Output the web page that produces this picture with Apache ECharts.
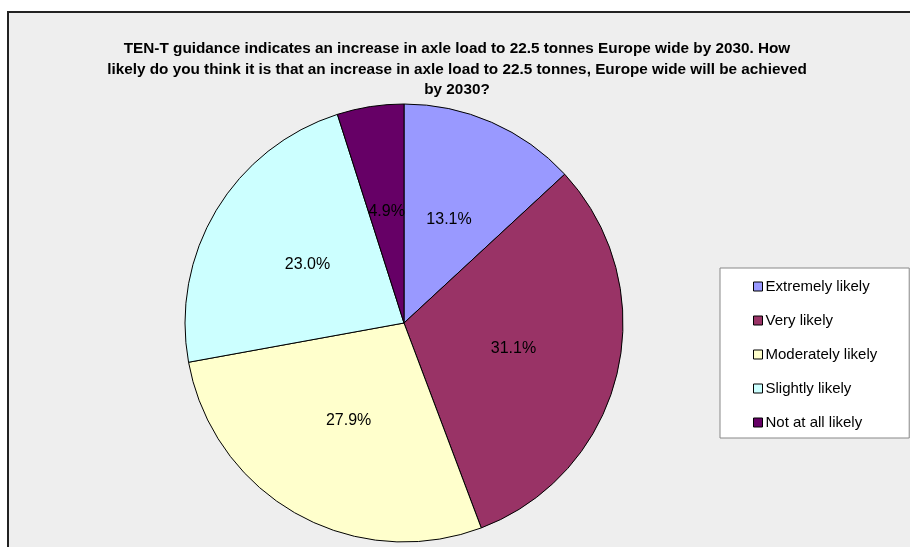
<!DOCTYPE html>
<html>
<head>
<meta charset="utf-8">
<script src="https://cdn.jsdelivr.net/npm/echarts@6/dist/echarts.min.js"></script>
<style>
  html, body { margin: 0; padding: 0; background: #fff; }
  #chart { width: 910px; height: 547px; }
</style>
</head>
<body>
<div id="chart"></div>
<script>
// answers (number of respondents, 61 in total)
var categories = ['Extremely likely', 'Very likely', 'Moderately likely', 'Slightly likely', 'Not at all likely'];
var counts = [8, 19, 17, 14, 3];
var colors = ['#9999FF', '#993366', '#FFFFCC', '#CCFFFF', '#660066'];

var titleText = 'TEN-T guidance indicates an increase in axle load to 22.5 tonnes Europe wide by 2030. How\n' +
  'likely do you think it is that an increase in axle load to 22.5 tonnes, Europe wide will be achieved\n' +
  'by 2030?';

var total = counts.reduce(function (a, b) { return a + b; }, 0);

var myChart = echarts.init(document.getElementById('chart'));

var pieData = categories.map(function (name, i) {
  return { name: name, value: counts[i], itemStyle: { color: colors[i] } };
});

var option = {
  backgroundColor: '#ffffff',
  animation: false,
  graphic: [
    {
      type: 'rect',
      z: -10,
      shape: { x: 8, y: 12, width: 920, height: 560 },
      style: { fill: '#EEEEEE', stroke: '#222222', lineWidth: 2 }
    }
  ],
  title: {
    text: titleText,
    left: 452,
    top: 34,
    textAlign: 'center',
    textStyle: {
      fontFamily: 'Liberation Sans',
      fontSize: 15.3,
      fontWeight: 'bold',
      color: '#000',
      lineHeight: 20.5
    }
  },
  legend: {
    orient: 'vertical',
    left: 720,
    top: 268,
    padding: [11, 32, 8, 33],
    itemWidth: 9,
    itemHeight: 9,
    itemGap: 19,
    backgroundColor: '#ffffff',
    borderColor: '#888888',
    borderWidth: 1,
    icon: 'rect',
    itemStyle: { borderColor: '#000', borderWidth: 1 },
    textStyle: {
      fontFamily: 'Liberation Sans',
      fontSize: 15,
      color: '#000',
      padding: [0, 0, 0, -2],
      lineHeight: 14
    },
    data: categories
  },
  series: [
    {
      type: 'pie',
      center: [404, 323],
      radius: 219,
      startAngle: 90,
      clockwise: true,
      data: pieData,
      itemStyle: { borderColor: '#000', borderWidth: 1 },
      label: {
        position: 'inside',
        fontFamily: 'Liberation Sans',
        fontSize: 16,
        color: '#000',
        formatter: function (p) {
          return (p.value / total * 100).toFixed(1) + '%';
        }
      },
      labelLine: { show: false },
      emphasis: { disabled: true }
    }
  ]
};

myChart.setOption(option);
</script>
</body>
</html>
